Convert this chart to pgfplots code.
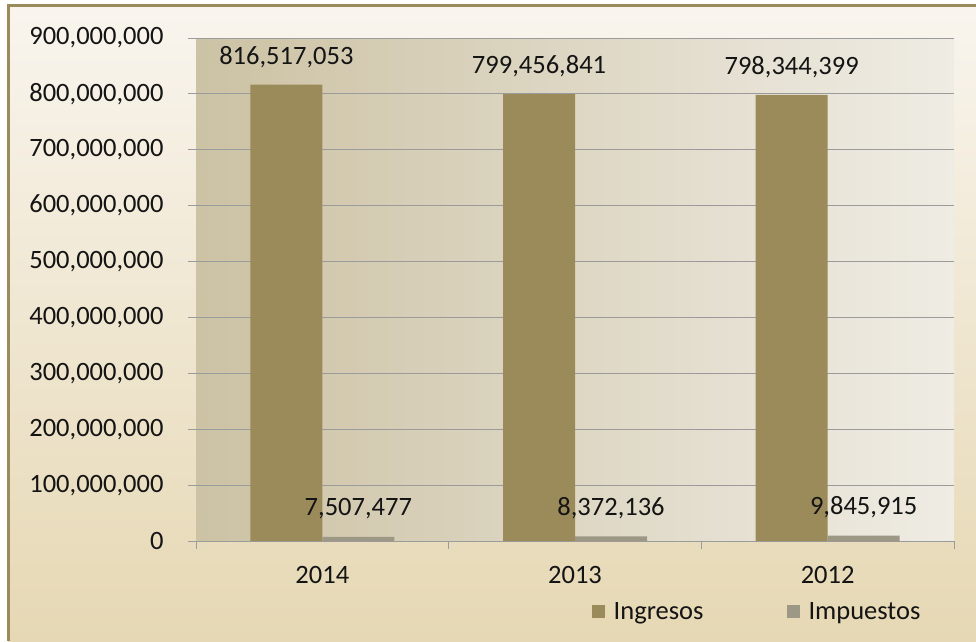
\documentclass[border=0pt]{standalone}
\usepackage{pgfplots}
\pgfplotsset{compat=1.18}
\usepackage{fontspec}
\setmainfont{Carlito}
\definecolor{ingcol}{RGB}{156,139,90}
\definecolor{impcol}{RGB}{157,152,134}
\definecolor{bgtop}{RGB}{249,245,238}
\definecolor{bgbot}{RGB}{230,216,180}
\definecolor{plotL}{RGB}{204,194,164}
\definecolor{plotR}{RGB}{239,236,228}
\definecolor{gridc}{RGB}{155,155,155}
\definecolor{bordc}{RGB}{155,139,90}
\definecolor{txt}{RGB}{20,20,20}
\newcommand\fs{\fontsize{26.5}{31}\selectfont}
\begin{document}
\begin{tikzpicture}[x=1pt,y=1pt]
\useasboundingbox (0,0) rectangle (976,641);
\fill[white] (0,0) rectangle (976,641);
\shade[top color=bgtop, bottom color=bgbot] (8,0) rectangle (976,636);
\draw[bordc, line width=2.5pt] (8.5,0) -- (8.5,635.5) -- (976,635.5);
\begin{axis}[
  at={(196pt,100pt)}, anchor=south west,
  width=758pt, height=503pt, scale only axis,
  xmin=-0.5, xmax=2.5, ymin=0, ymax=900000000,
  ybar=0pt, bar width=72pt,
  axis background/.style={left color=plotL, right color=plotR},
  axis x line*=bottom, axis y line*=left,
  y axis line style={draw=none},
  x axis line style={gridc, line width=1pt},
  ymajorgrids, major grid style={gridc, line width=1pt},
  tick align=outside, major tick length=8pt, minor tick length=8pt,
  y tick style={gridc, line width=1pt},
  minor x tick style={gridc, line width=1pt},
  major x tick style={draw=none},
  xtick={0,1,2}, xticklabels={2014,2013,2012},
  minor xtick={-0.5,0.5,1.5,2.5},
  ytick={0,100000000,200000000,300000000,400000000,500000000,600000000,700000000,800000000,900000000},
  yticklabels={0,{100,000,000},{200,000,000},{300,000,000},{400,000,000},{500,000,000},{600,000,000},{700,000,000},{800,000,000},{900,000,000}},
  /pgf/number format/assume math mode=true,
  scaled y ticks=false,
  ticklabel style={font=\fs, text=txt},
  yticklabel style={xshift=-21pt},
  xticklabel style={yshift=-14pt},
  point meta=explicit symbolic,
  nodes near coords={\pgfplotspointmeta},
  every node near coord/.append style={font=\fs, text=txt, anchor=center, yshift=28pt},
  legend style={draw=none, fill=none, font=\fs, text=txt, inner sep=0pt, outer sep=0pt,
    at={(rel axis cs:0.522,-0.14)}, anchor=west, legend columns=2,
    /tikz/every even column/.append style={column sep=80pt},
    nodes={inner sep=3pt}},
  legend image code/.code={\fill[#1] (0pt,-6.5pt) rectangle (13pt,6.5pt); \path (19pt,0pt);},
  clip=false,
]
\addplot[fill=ingcol, draw=none] table[x=x,y=y,meta=lab] {
x y lab
0 816517053 816,517,053
1 799456841 799,456,841
2 798344399 798,344,399
};
\addplot[fill=impcol, draw=none] table[x=x,y=y,meta=lab] {
x y lab
0 7507477 7,507,477
1 8372136 8,372,136
2 9845915 9,845,915
};
\legend{Ingresos,Impuestos}
\end{axis}
\end{tikzpicture}
\end{document}
